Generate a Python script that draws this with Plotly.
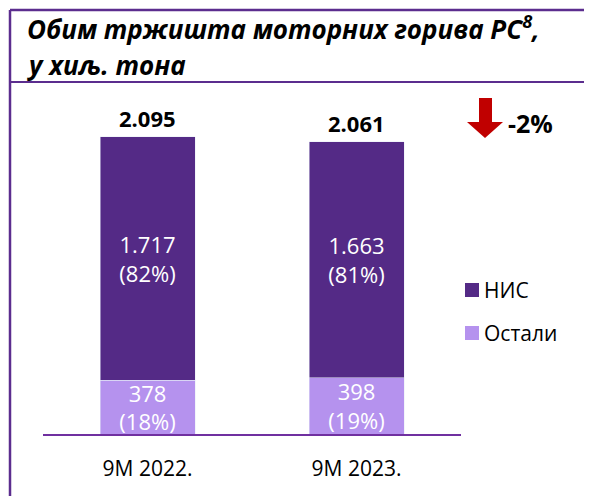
import plotly.graph_objects as go

# data (thousand tonnes)
periods = ["9M 2022.", "9M 2023."]
nis = [1717, 1663]
others = [378, 398]
change_label = "-2%"

dark = "#542A86"
light = "#B592EE"
frame = "#5B2D8E"
font_name = "Open Sans"

# page is offset by the 8px body margin, so the figure is 8px smaller
W, H = 584, 488
L, R, T, B = 35, 131, 92, 62   # plot area on page: 43..461 x 100..434


def px_x(p):
    # page pixel -> paper x
    return (p - 8 - L) / (W - L - R)


def px_y(p):
    # page pixel -> paper y
    return (H - B - (p - 8)) / (H - T - B)


def fmt(v):
    return "{:,}".format(v).replace(",", ".")


totals = [a + b for a, b in zip(nis, others)]
nis_text = ["{}<br>({}%)".format(fmt(v), round(v * 100 / t)) for v, t in zip(nis, totals)]
oth_text = ["{}<br>({}%)".format(fmt(v), round(v * 100 / t)) for v, t in zip(others, totals)]

fig = go.Figure()
fig.add_trace(go.Bar(x=periods, y=others, name="Остали", marker_color=light,
                     text=oth_text, textposition="inside", insidetextanchor="middle",
                     textangle=0, textfont=dict(color="white", size=22), showlegend=False))
fig.add_trace(go.Bar(x=periods, y=nis, name="НИС", marker_color=dark,
                     text=nis_text, textposition="inside", insidetextanchor="middle",
                     textangle=0, textfont=dict(color="white", size=22), showlegend=False))

# totals above bars
for p, t in zip(periods, totals):
    fig.add_annotation(x=p, y=t, text="<b>" + fmt(t) + "</b>", showarrow=False,
                       yanchor="bottom", yshift=2, font=dict(size=22, color="black"))

# title
fig.add_annotation(xref="paper", yref="paper", x=px_x(25), y=px_y(28),
                   xanchor="left", yanchor="middle",
                   text="<b><i>Обим тржишта моторних горива РС<sup>8</sup>,</i></b>",
                   showarrow=False, font=dict(size=26, color="black"))
fig.add_annotation(xref="paper", yref="paper", x=px_x(25), y=px_y(65),
                   xanchor="left", yanchor="middle",
                   text="<b><i>у хиљ. тона</i></b>",
                   showarrow=False, font=dict(size=26, color="black"))

# change arrow and label
arrow = "M {x1},{y0} L {x2},{y0} L {x2},{ym} L {x3},{ym} L {xt},{yt} L {x0},{ym} L {x1},{ym} Z".format(
    x0=px_x(467), x1=px_x(479), x2=px_x(492), x3=px_x(503), xt=px_x(485),
    y0=px_y(98), ym=px_y(122), yt=px_y(138))
fig.add_shape(type="path", xref="paper", yref="paper", path=arrow,
              fillcolor="#C00000", line=dict(width=0))
fig.add_annotation(xref="paper", yref="paper", x=px_x(506), y=px_y(123),
                   xanchor="left", yanchor="middle",
                   text="<b>" + change_label + "</b>", showarrow=False,
                   font=dict(size=25, color="black"))

# legend (manual)
for name, col, cy in [("НИС", dark, 290), ("Остали", light, 333)]:
    fig.add_shape(type="rect", xref="paper", yref="paper",
                  x0=px_x(465), x1=px_x(479), y0=px_y(cy - 7), y1=px_y(cy + 7),
                  fillcolor=col, line=dict(width=0))
    fig.add_annotation(xref="paper", yref="paper", x=px_x(482), y=px_y(cy),
                       xanchor="left", yanchor="middle",
                       text=name, showarrow=False, font=dict(size=21, color="black"))

# frame lines
fig.add_shape(type="line", xref="paper", yref="paper", x0=px_x(10), x1=px_x(592),
              y0=px_y(10), y1=px_y(10), line=dict(color=frame, width=2.5))
fig.add_shape(type="line", xref="paper", yref="paper", x0=px_x(10), x1=px_x(10),
              y0=px_y(10), y1=px_y(496), line=dict(color=frame, width=2.5))
fig.add_shape(type="line", xref="paper", yref="paper", x0=px_x(10), x1=px_x(592),
              y0=px_y(82), y1=px_y(82), line=dict(color=frame, width=2))

fig.update_layout(
    barmode="stack", bargap=1 - 95 / 209,
    width=W, height=H, margin=dict(l=L, r=R, t=T, b=B),
    plot_bgcolor="white", paper_bgcolor="white",
    font=dict(family=font_name, color="black"),
    uniformtext=dict(minsize=22, mode="show"),
)
fig.update_xaxes(showline=True, linecolor="#7030A0", linewidth=1.5, ticks="",
                 tickfont=dict(size=21, color="black"), ticklabelstandoff=15)
fig.update_yaxes(visible=False, range=[0, 2355], showgrid=False)

fig.write_html("out.html", config={"displayModeBar": False})
